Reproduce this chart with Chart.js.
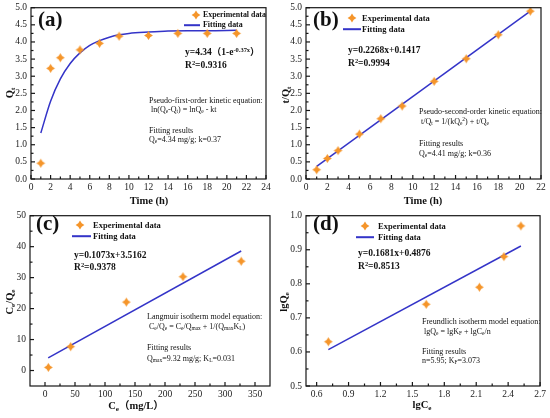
<!DOCTYPE html>
<html>
<head>
<meta charset="utf-8">
<script src="https://cdn.jsdelivr.net/npm/chart.js@4"></script>
<style>
  html,body{margin:0;padding:0;background:#fff;}
  body{width:550px;height:418px;position:relative;overflow:hidden;font-family:'Liberation Serif','Times New Roman','Noto Sans CJK SC',serif;color:#111;}
  canvas{position:absolute;}
  .t{position:absolute;white-space:nowrap;line-height:1;transform:translateY(-50%);}
  .b{font-weight:bold;}
  .c{transform:translate(-50%,-50%);}
  .r{transform:translate(-50%,-50%) rotate(-90deg);}
  sub,sup{font-size:68%;line-height:0;}
  sub{vertical-align:-0.25em;}
  sup{vertical-align:0.55em;}
  .ln{position:absolute;height:1.6px;background:#3434c8;transform:translateY(-50%);}
  svg.st{position:absolute;overflow:visible;}
</style>
</head>
<body>
<canvas id="ca"></canvas>
<canvas id="cb"></canvas>
<canvas id="cc"></canvas>
<canvas id="cd"></canvas>
<div id="ov"></div>
<script>
// ---------- data ----------
// (a) pseudo-first-order kinetics
const aTime = [1, 2, 3, 5, 7, 9, 12, 15, 18, 21];
const aQt   = [0.46, 3.23, 3.54, 3.77, 3.96, 4.17, 4.19, 4.25, 4.25, 4.25];
const aFitTime = [1, 2, 3, 4, 5, 6, 7, 8, 9, 10, 12, 14, 16, 18, 21];
const aFitQt   = [1.34, 2.27, 2.92, 3.37, 3.68, 3.90, 4.04, 4.14, 4.21, 4.25, 4.29, 4.32, 4.33, 4.33, 4.34];
const aXTicks = [0, 2, 4, 6, 8, 10, 12, 14, 16, 18, 20, 22, 24];
const aYTicks = [0, 0.5, 1, 1.5, 2, 2.5, 3, 3.5, 4, 4.5, 5];

// (b) pseudo-second-order kinetics
const bTime = [1, 2, 3, 5, 7, 9, 12, 15, 18, 21];
const bTQt  = [0.27, 0.60, 0.83, 1.31, 1.76, 2.13, 2.85, 3.51, 4.21, 4.90];
const bFitTime = [1, 21];
const bFitTQt  = [0.37, 4.90];
const bXTicks = [0, 2, 4, 6, 8, 10, 12, 14, 16, 18, 20, 22];
const bYTicks = [0, 0.5, 1, 1.5, 2, 2.5, 3, 3.5, 4, 4.5, 5];

// (c) Langmuir isotherm
const cCe   = [5.6, 42.8, 135.6, 230, 327];
const cCeQe = [1.0, 7.7, 22.1, 30.3, 35.3];
const cFitCe   = [5.3, 327];
const cFitCeQe = [4.1, 38.6];
const cXTicks = [0, 50, 100, 150, 200, 250, 300, 350];
const cYTicks = [0, 10, 20, 30, 40, 50];

// (d) Freundlich isotherm
const dLgCe = [0.71, 1.63, 2.13, 2.36, 2.52];
const dLgQe = [0.63, 0.74, 0.79, 0.88, 0.97];
const dFitLgCe = [0.71, 2.52];
const dFitLgQe = [0.607, 0.911];
const dXTicks = [0.6, 0.9, 1.2, 1.5, 1.8, 2.1, 2.4, 2.7];
const dYTicks = [0.5, 0.6, 0.7, 0.8, 0.9, 1.0];

// ---------- styling ----------
const ORANGE = '#f5952a';
const BLUE = '#3434c8';
const FONT = "'Liberation Serif','Times New Roman',serif";
const STAR_R = 4.4, STAR_K = 0.56;

function starPoints(r, k) {
  const p = [];
  for (let i = 0; i < 8; i++) {
    const ang = -Math.PI / 2 + i * Math.PI / 4;
    const rr = i % 2 === 0 ? r : r * k;
    p.push([Math.cos(ang) * rr, Math.sin(ang) * rr]);
  }
  return p;
}

function starCanvas(r, k) {
  const s = Math.ceil(r * 2 + 2);
  const cv = document.createElement('canvas');
  cv.width = s; cv.height = s;
  const g = cv.getContext('2d');
  g.translate(s / 2, s / 2);
  g.beginPath();
  starPoints(r, k).forEach(q => g.lineTo(q[0], q[1]));
  g.closePath();
  g.fillStyle = ORANGE;
  g.fill();
  return cv;
}
const STAR = starCanvas(STAR_R, STAR_K);

const boxTicks = {
  id: 'boxTicks',
  afterDraw(chart, args, opts) {
    const { ctx, chartArea: ca, scales: { x, y } } = chart;
    ctx.save();
    ctx.strokeStyle = '#161616';
    ctx.lineWidth = 1.2;
    ctx.strokeRect(ca.left, ca.top, ca.right - ca.left, ca.bottom - ca.top);
    const draw = (scale, vals, horiz) => {
      const mids = [];
      for (let i = 0; i < vals.length - 1; i++) mids.push((vals[i] + vals[i + 1]) / 2);
      const step = vals[1] - vals[0];
      const lo = vals[0] - step / 2, hi = vals[vals.length - 1] + step / 2;
      if (lo > scale.min + 1e-9) mids.push(lo);
      if (hi < scale.max - 1e-9) mids.push(hi);
      const one = (v, len) => {
        const p = scale.getPixelForValue(v);
        ctx.beginPath();
        if (horiz) { ctx.moveTo(p, ca.bottom); ctx.lineTo(p, ca.bottom - len); }
        else { ctx.moveTo(ca.left, p); ctx.lineTo(ca.left + len, p); }
        ctx.stroke();
      };
      vals.forEach(v => one(v, 4));
      mids.forEach(v => one(v, 2.5));
    };
    draw(x, opts.xt, true);
    draw(y, opts.yt, false);
    ctx.restore();
  }
};

function pts(xs, ys) { return xs.map((v, i) => ({ x: v, y: ys[i] })); }

function makePanel(id, box, xr, yr, xt, yt, fmtX, fmtY, ex, fit, tension) {
  const [l, t, r, b] = box;
  const cv = document.getElementById(id);
  const W = (r - l) + 48, H = (b - t) + 40;
  cv.style.left = (l - 40) + 'px';
  cv.style.top = (t - 8) + 'px';
  cv.width = W; cv.height = H;
  cv.style.width = W + 'px'; cv.style.height = H + 'px';
  const tickFont = { family: FONT, size: 9.5 };
  new Chart(cv, {
    type: 'scatter',
    data: {
      datasets: [
        { data: ex, pointStyle: STAR, pointRadius: 5, showLine: false, backgroundColor: ORANGE, borderColor: ORANGE, order: 1 },
        { data: fit, showLine: true, pointRadius: 0, borderColor: BLUE, borderWidth: 1.5, tension: tension, cubicInterpolationMode: tension ? 'monotone' : 'default', fill: false, order: 2 }
      ]
    },
    options: {
      responsive: false,
      animation: false,
      layout: { padding: { left: 0, top: 8, right: 8, bottom: 0 }, autoPadding: false },
      plugins: { legend: { display: false }, tooltip: { enabled: false }, boxTicks: { xt: xt, yt: yt } },
      scales: {
        x: {
          type: 'linear', min: xr[0], max: xr[1],
          grid: { display: false, drawTicks: false }, border: { display: false },
          ticks: { font: tickFont, color: '#222', padding: 3, maxRotation: 0, autoSkip: false, callback: v => fmtX(v) },
          afterBuildTicks: s => { s.ticks = xt.map(v => ({ value: v })); },
          afterFit: s => { s.height = 32; }
        },
        y: {
          type: 'linear', min: yr[0], max: yr[1],
          grid: { display: false, drawTicks: false }, border: { display: false },
          ticks: { font: tickFont, color: '#222', padding: 4, autoSkip: false, callback: v => fmtY(v) },
          afterBuildTicks: s => { s.ticks = yt.map(v => ({ value: v })); },
          afterFit: s => { s.width = 40; }
        }
      }
    },
    plugins: [boxTicks]
  });
}

const f0 = v => String(Math.round(v));
const f1 = v => (Math.round(v * 10) / 10).toFixed(1);

makePanel('ca', [31, 6, 266, 179], [0, 24], [0, 5], aXTicks, aYTicks, f0, f1,
  pts(aTime, aQt), pts(aFitTime, aFitQt), 0.4);
makePanel('cb', [306, 6, 541, 179], [0, 22], [0, 5], bXTicks, bYTicks, f0, f1,
  pts(bTime, bTQt), pts(bFitTime, bFitTQt), 0);
makePanel('cc', [30, 214, 270, 386], [-25, 375], [-5, 50], cXTicks, cYTicks, f0, f0,
  pts(cCe, cCeQe), pts(cFitCe, cFitCeQe), 0);
makePanel('cd', [306, 214, 541, 386], [0.5, 2.7], [0.5, 1.0], dXTicks, dYTicks, f1, f1,
  pts(dLgCe, dLgQe), pts(dFitLgCe, dFitLgQe), 0);

// ---------- text overlays ----------
const ov = document.getElementById('ov');
function txt(html, x, y, size, cls) {
  const d = document.createElement('div');
  d.className = 't ' + (cls || '');
  d.style.left = x + 'px'; d.style.top = y + 'px';
  d.style.fontSize = size + 'px';
  d.innerHTML = html;
  ov.appendChild(d);
}
function line(x1, x2, y) {
  const d = document.createElement('div');
  d.className = 'ln';
  d.style.left = x1 + 'px'; d.style.width = (x2 - x1) + 'px'; d.style.top = y + 'px';
  ov.appendChild(d);
}
function star(x, y) {
  const p = starPoints(STAR_R, STAR_K).map(q => q[0].toFixed(2) + ',' + q[1].toFixed(2));
  const s = document.createElementNS('http://www.w3.org/2000/svg', 'svg');
  s.setAttribute('class', 'st');
  s.setAttribute('width', '10'); s.setAttribute('height', '10');
  s.style.left = (x - 5) + 'px'; s.style.top = (y - 5) + 'px';
  s.innerHTML = '<polygon transform="translate(5,5)" points="' + p.join(' ') + '" fill="' + ORANGE + '"/>';
  ov.appendChild(s);
}

// panel a
txt('(a)', 38, 19, 21, 'b');
star(196, 15); txt('Experimental data', 203, 15, 7.9, 'b');
line(184, 200, 25); txt('Fitting data', 203, 25, 7.9, 'b');
txt('y=4.34（1-e<sup>-0.37x</sup>）', 185, 53, 9.5, 'b');
txt('R<sup>2</sup>=0.9316', 185, 66, 9.5, 'b');
txt('Pseudo-first-order kinetic equation:', 149, 101, 8);
txt('&nbsp;ln(Q<sub>e</sub>-Q<sub>t</sub>) = lnQ<sub>e</sub> - kt', 149, 110, 8);
txt('Fitting results', 149, 131, 8);
txt('Q<sub>e</sub>=4.34 mg/g; k=0.37', 149, 140, 8);
txt('Time (h)', 149, 201, 10.5, 'b c');
txt('Q<sub>t</sub>', 10, 93, 10.5, 'b r');

// panel b
txt('(b)', 313, 19, 21, 'b');
star(352, 18); txt('Experimental data', 362, 18, 8.5, 'b');
line(343, 361, 29); txt('Fitting data', 362, 29, 8.5, 'b');
txt('y=0.2268x+0.1417', 348, 51, 9.5, 'b');
txt('R<sup>2</sup>=0.9994', 348, 64, 9.5, 'b');
txt('Pseudo-second-order kinetic equation:', 419, 112, 8);
txt('&nbsp;t/Q<sub>t</sub> = 1/(kQ<sub>e</sub><sup>2</sup>) + t/Q<sub>e</sub>', 419, 122, 8);
txt('Fitting results', 419, 144, 8);
txt('Q<sub>e</sub>=4.41 mg/g; k=0.36', 419, 154, 8);
txt('Time (h)', 423, 201, 10.5, 'b c');
txt('t/Q<sub>t</sub>', 286, 95, 10.5, 'b r');

// panel c
txt('(c)', 36, 223, 21, 'b');
star(80, 225); txt('Experimental data', 93, 225, 8.5, 'b');
line(72, 91, 236); txt('Fitting data', 93, 236, 8.5, 'b');
txt('y=0.1073x+3.5162', 74, 256, 9.5, 'b');
txt('R<sup>2</sup>=0.9378', 74, 268, 9.5, 'b');
txt('Langmuir isotherm model equation:', 147, 317, 8);
txt('&nbsp;C<sub>e</sub>/Q<sub>e</sub> = C<sub>e</sub>/Q<sub>max</sub> + 1/(Q<sub>max</sub>K<sub>L</sub>)', 147, 327, 8);
txt('Fitting results', 147, 348, 8);
txt('Q<sub>max</sub>=9.32 mg/g; K<sub>L</sub>=0.031', 147, 359, 8);
txt('C<sub>e</sub>（mg/L）', 136, 406, 10.5, 'b c');
txt('C<sub>e</sub>/Q<sub>e</sub>', 10, 302, 10.5, 'b r');

// panel d
txt('(d)', 313, 223, 21, 'b');
star(365, 226); txt('Experimental data', 378, 226, 8.5, 'b');
line(356, 374, 237); txt('Fitting data', 378, 237, 8.5, 'b');
txt('y=0.1681x+0.4876', 358, 254, 9.5, 'b');
txt('R<sup>2</sup>=0.8513', 358, 267, 9.5, 'b');
txt('Freundlich isotherm model equation:', 422, 322, 8);
txt('&nbsp;lgQ<sub>e</sub> = lgK<sub>F</sub> + lgC<sub>e</sub>/n', 422, 332, 8);
txt('Fitting results', 422, 352, 8);
txt('n=5.95; K<sub>F</sub>=3.073', 422, 361, 8);
txt('lgC<sub>e</sub>', 422, 405, 10.5, 'b c');
txt('lgQ<sub>e</sub>', 284, 302, 10.5, 'b r');
</script>
</body>
</html>
